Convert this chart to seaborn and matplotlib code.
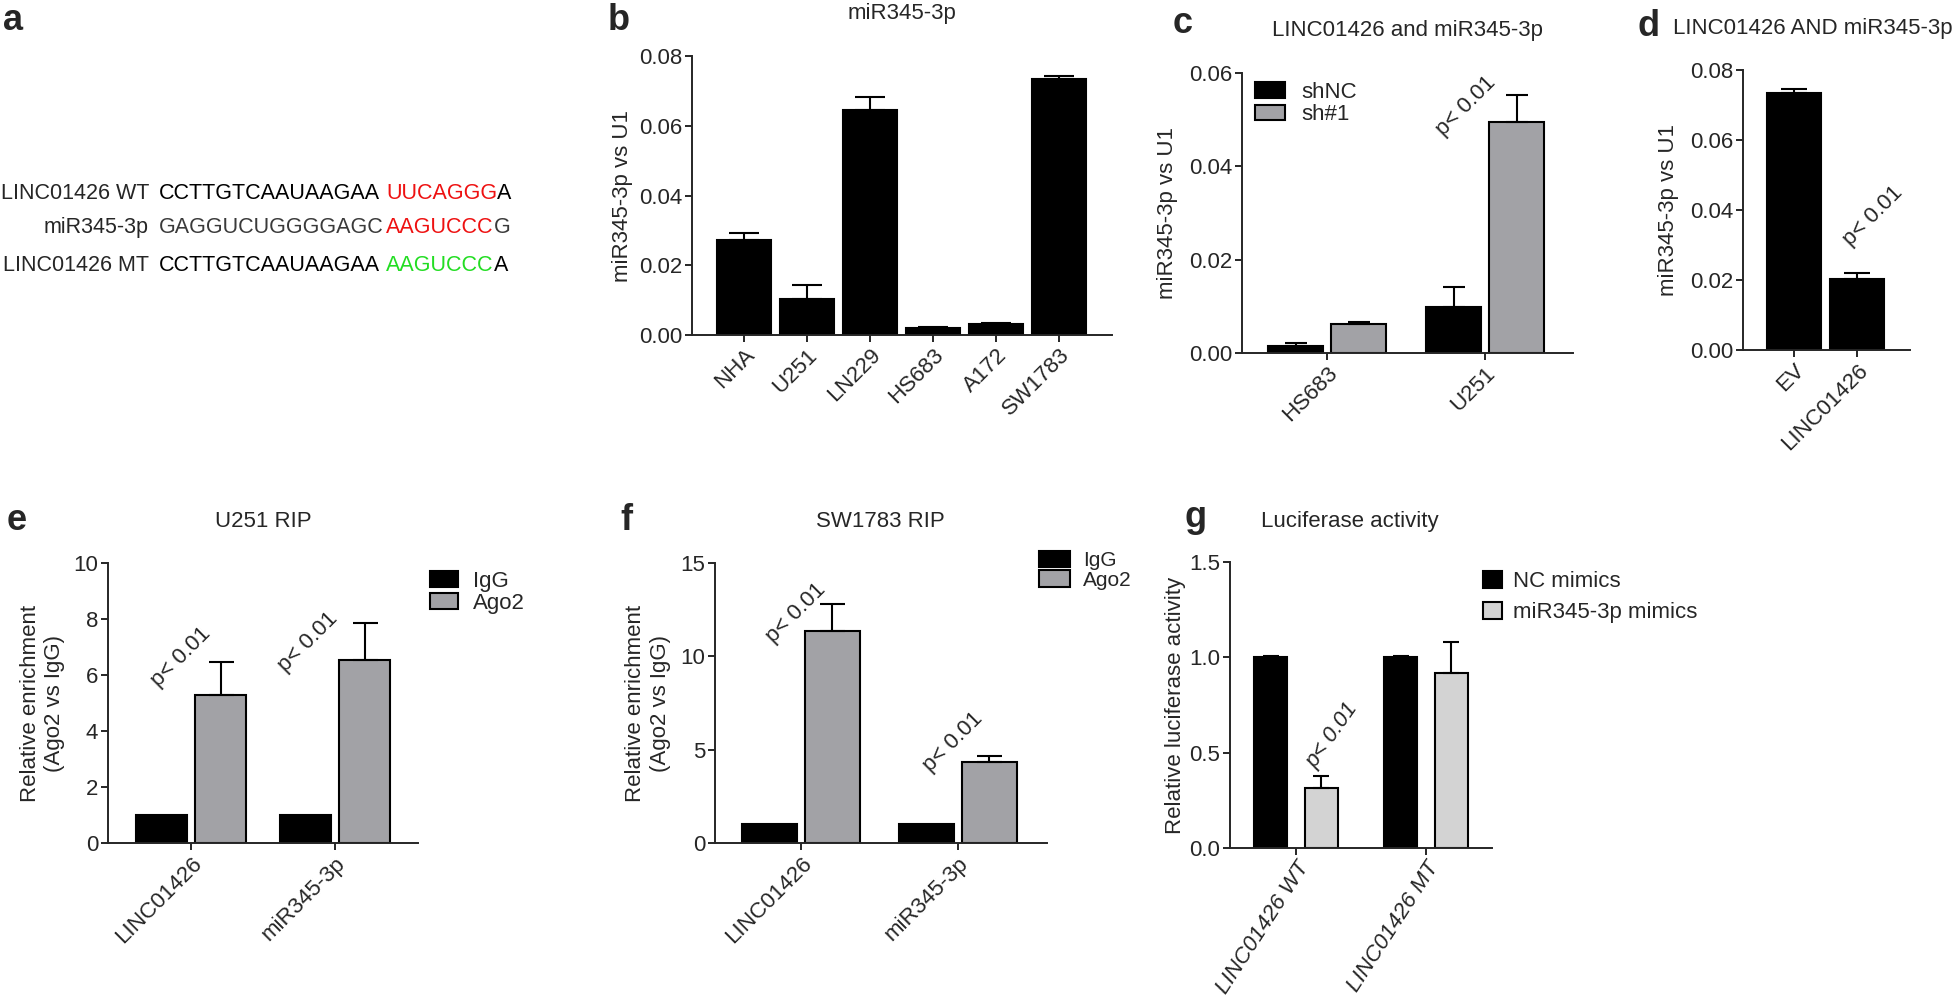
import matplotlib
matplotlib.use("Agg")
import matplotlib.pyplot as plt
from matplotlib import font_manager
from matplotlib.ticker import FormatStrFormatter
import numpy as np
import pandas as pd
import seaborn as sns

# ===== data =====
# a: sequence alignment
seq_names = ["LINC01426 WT", "miR345-3p", "LINC01426 MT"]
seq_left = ["CCTTGTCAAUAAGAA", "GAGGUCUGGGGAGC", "CCTTGTCAAUAAGAA"]
seq_site = ["UUCAGGG", "AAGUCCC", "AAGUCCC"]
seq_right = ["A", "G", "A"]

# b: miR345-3p in cell lines
b_cells = ["NHA", "U251", "LN229", "HS683", "A172", "SW1783"]
b_mean = [0.0272, 0.0103, 0.0645, 0.0019, 0.0031, 0.0734]
b_err = [0.0021, 0.0040, 0.0038, 0.0003, 0.0003, 0.0009]

# c: knockdown
c_cells = ["HS683", "U251"]
c_groups = ["shNC", "sh#1"]
c_shnc = [0.0016, 0.0099]
c_shnc_err = [0.0005, 0.0042]
c_sh1 = [0.0062, 0.0495]
c_sh1_err = [0.0004, 0.0058]

# d: overexpression
d_groups = ["EV", "LINC01426"]
d_mean = [0.0734, 0.0202]
d_err = [0.0012, 0.0017]

# e/f: RIP
rip_targets = ["LINC01426", "miR345-3p"]
rip_groups = ["IgG", "Ago2"]
e_igg = [1.0, 1.0]
e_ago2 = [5.3, 6.55]
e_ago2_err = [1.18, 1.32]
f_igg = [1.0, 1.0]
f_ago2 = [11.35, 4.35]
f_ago2_err = [1.45, 0.33]

# g: luciferase
g_constructs = ["LINC01426 WT", "LINC01426 MT"]
g_groups = ["NC mimics", "miR345-3p mimics"]
g_nc = [1.0, 1.0]
g_nc_err = [0.005, 0.005]
g_mim = [0.316, 0.919]
g_mim_err = [0.062, 0.16]

BLACK = "#000000"
GRAY = "#a2a2a6"
LIGHT = "#d3d3d3"

sns.set_style("ticks")
plt.rcParams["font.family"] = ["Liberation Sans", "DejaVu Sans"]
names = {f.name for f in font_manager.fontManager.ttflist}
narrow = "Liberation Sans Narrow" if "Liberation Sans Narrow" in names else "Liberation Sans"

W, H = 1960, 998
fig = plt.figure(figsize=(W / 100, H / 100), dpi=100)
renderer = fig.canvas.get_renderer()


def add_ax(x0, x1, ytop, ybot):
    return fig.add_axes([x0 / W, 1 - ybot / H, (x1 - x0) / W, (ybot - ytop) / H])


def ftext(x, y, s, **kw):
    return fig.text(x / W, 1 - y / H, s, **kw)


def style(ax, ylim, yticks, fmt, xlim, family=None):
    sns.despine(ax=ax)
    for sp in ["left", "bottom"]:
        ax.spines[sp].set_linewidth(1.4)
    ax.set_ylim(ylim)
    ax.set_yticks(yticks)
    ax.yaxis.set_major_formatter(FormatStrFormatter(fmt))
    ax.set_xlim(xlim)
    ax.tick_params(direction="out", length=5, width=1.4, labelsize=16, pad=2)
    ax.set_xlabel("")
    for lab in ax.get_xticklabels():
        lab.set_rotation(45)
        lab.set_ha("right")
        lab.set_rotation_mode("anchor")
        if family:
            lab.set_family(family)
    if family:
        for lab in ax.get_yticklabels():
            lab.set_family(family)


def add_err(ax, container, errs, capsize):
    xs = [p.get_x() + p.get_width() / 2 for p in container]
    ys = [p.get_height() for p in container]
    ax.errorbar(xs, ys, yerr=[np.zeros(len(errs)), errs], fmt="none",
                ecolor="black", elinewidth=1.5, capsize=capsize, capthick=1.5)


def legend(ax, labels, x, y, hl, hh, ls, tp, size=16, family=None):
    prop = {"size": size}
    if family:
        prop["family"] = family
    ax.legend(ax.containers, labels, loc="upper left",
              bbox_to_anchor=(x / W, 1 - y / H), bbox_transform=fig.transFigure,
              frameon=False, prop=prop, handlelength=hl, handleheight=hh,
              labelspacing=ls, handletextpad=tp, borderpad=0, borderaxespad=0)


def ptext(ax, x, y, rot=45, **kw):
    ax.text(x, y, "p< 0.01", rotation=rot, ha="center", va="center", fontsize=16, **kw)


# ===== panel labels =====
for lab, x, y in [("a", 3, 30), ("b", 608, 30), ("c", 1173, 33), ("d", 1637, 36),
                  ("e", 7, 530), ("f", 620, 530), ("g", 1185, 527)]:
    ftext(x, y, lab, fontsize=26, fontweight="bold", va="baseline", ha="left")

# ===== a: sequences (pieces chained one after another) =====
base_y = [199, 233, 271]
left_col = ["black", "#3a3a3a", "black"]
site_col = ["#ee1111", "#ee1111", "#22dd22"]
for i in range(3):
    ftext(149, base_y[i], seq_names[i], fontsize=15.5, ha="right", va="baseline")
    ftext(159, base_y[i], seq_left[i], fontsize=15.5, ha="left", va="baseline", color=left_col[i])
    t = ftext(386, base_y[i], seq_site[i], fontsize=15.5, ha="left", va="baseline", color=site_col[i])
    x_end = t.get_window_extent(renderer=renderer).x1
    ftext(x_end, base_y[i], seq_right[i], fontsize=15.5, ha="left", va="baseline", color=left_col[i])

# ===== b =====
ax = add_ax(692, 1112, 56, 335)
sns.barplot(x=b_cells, y=b_mean, color=BLACK, saturation=1, width=0.86,
            edgecolor="black", linewidth=1.5, errorbar=None, ax=ax)
add_err(ax, ax.containers[0], b_err, 10.5)
style(ax, (0, 0.08), [0, 0.02, 0.04, 0.06, 0.08], "%.2f", (-0.825, 5.84))
ax.set_ylabel("miR345-3p vs U1", fontsize=16, labelpad=4)
ftext(902, 19, "miR345-3p", fontsize=16, ha="center", va="baseline")

# ===== c =====
ax = add_ax(1242, 1573, 73, 353)
df_c = pd.DataFrame({"cell": c_cells * 2, "group": [c_groups[0]] * 2 + [c_groups[1]] * 2,
                     "value": c_shnc + c_sh1})
sns.barplot(data=df_c, x="cell", y="value", hue="group", order=c_cells, hue_order=c_groups,
            palette=[BLACK, GRAY], saturation=1, width=0.8, gap=0.13, edgecolor="black",
            linewidth=1.5, errorbar=None, legend=False, ax=ax)
add_err(ax, ax.containers[0], c_shnc_err, 8)
add_err(ax, ax.containers[1], c_sh1_err, 8)
style(ax, (0, 0.06), [0, 0.02, 0.04, 0.06], "%.2f", (-0.54, 1.557))
ax.set_ylabel("miR345-3p vs U1", fontsize=16, labelpad=8)
legend(ax, c_groups, 1255, 82, 1.35, 0.7, 0.05, 0.75)
ptext(ax, 0.88, 0.0529)
ftext(1407, 36, "LINC01426 and miR345-3p", fontsize=16, ha="center", va="baseline")

# ===== d =====
ax = add_ax(1743, 1910, 70, 350)
sns.barplot(x=d_groups, y=d_mean, color=BLACK, saturation=1, width=0.86,
            edgecolor="black", linewidth=1.5, errorbar=None, ax=ax)
add_err(ax, ax.containers[0], d_err, 9.5)
style(ax, (0, 0.08), [0, 0.02, 0.04, 0.06, 0.08], "%.2f", (-0.81, 1.84))
ax.set_ylabel("miR345-3p vs U1", fontsize=16, labelpad=8)
ptext(ax, 1.25, 0.0383)
ftext(1673, 34, "LINC01426 AND miR345-3p", fontsize=16, ha="left", va="baseline")

# ===== e =====
ax = add_ax(108, 418, 563, 843)
df_e = pd.DataFrame({"target": rip_targets * 2, "group": [rip_groups[0]] * 2 + [rip_groups[1]] * 2,
                     "value": e_igg + e_ago2})
sns.barplot(data=df_e, x="target", y="value", hue="group", order=rip_targets, hue_order=rip_groups,
            palette=[BLACK, GRAY], saturation=1, width=0.82, gap=0.14, edgecolor="black",
            linewidth=1.5, errorbar=None, legend=False, ax=ax)
add_err(ax, ax.containers[1], e_ago2_err, 9)
style(ax, (0, 10), [0, 2, 4, 6, 8, 10], "%d", (-0.576, 1.576))
ax.set_ylabel("Relative enrichment\n(Ago2 vs IgG)", fontsize=16, labelpad=6)
legend(ax, rip_groups, 430, 571, 1.27, 0.72, 0.05, 0.68)
ptext(ax, -0.07, 6.64)
ptext(ax, 0.81, 7.18)
ftext(263, 527, "U251 RIP", fontsize=16, ha="center", va="baseline")

# ===== f =====
ax = add_ax(715, 1047, 563, 843)
df_f = pd.DataFrame({"target": rip_targets * 2, "group": [rip_groups[0]] * 2 + [rip_groups[1]] * 2,
                     "value": f_igg + f_ago2})
sns.barplot(data=df_f, x="target", y="value", hue="group", order=rip_targets, hue_order=rip_groups,
            palette=[BLACK, GRAY], saturation=1, width=0.8, gap=0.125, edgecolor="black",
            linewidth=1.5, errorbar=None, legend=False, ax=ax)
add_err(ax, ax.containers[1], f_ago2_err, 9)
style(ax, (0, 15), [0, 5, 10, 15], "%d", (-0.548, 1.567))
ax.set_ylabel("Relative enrichment\n(Ago2 vs IgG)", fontsize=16, labelpad=7)
legend(ax, rip_groups, 1039, 551, 1.5, 0.82, 0.0, 0.62, size=15)
ptext(ax, -0.03, 12.3)
ptext(ax, 0.97, 5.4)
ftext(880, 527, "SW1783 RIP", fontsize=16, ha="center", va="baseline")

# ===== g =====
ax = add_ax(1230, 1492, 562, 848)
df_g = pd.DataFrame({"construct": g_constructs * 2,
                     "group": [g_groups[0]] * 2 + [g_groups[1]] * 2,
                     "value": g_nc + g_mim})
sns.barplot(data=df_g, x="construct", y="value", hue="group", order=g_constructs,
            hue_order=g_groups, palette=[BLACK, LIGHT], saturation=1, width=0.78, gap=0.36,
            edgecolor="black", linewidth=1.5, errorbar=None, legend=False, ax=ax)
add_err(ax, ax.containers[0], g_nc_err, 6)
add_err(ax, ax.containers[1], g_mim_err, 6)
style(ax, (0, 1.5), [0, 0.5, 1.0, 1.5], "%.1f", (-0.508, 1.508), family=narrow)
for lab in ax.get_xticklabels():
    lab.set_style("italic")
    lab.set_rotation(57)
ax.set_ylabel("Relative luciferase activity", fontsize=16, labelpad=2)
legend(ax, g_groups, 1483, 571, 0.86, 0.77, 0.45, 0.5, family=narrow)
ptext(ax, 0.28, 0.593, rot=55, family=narrow, style="italic")
ftext(1350, 527, "Luciferase activity", fontsize=16, ha="center", va="baseline", family=narrow)

fig.savefig("out.png", dpi=100)
